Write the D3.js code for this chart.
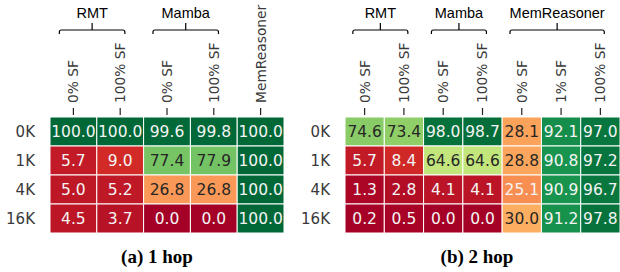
<!DOCTYPE html>
<html>
<head>
<meta charset="utf-8">
<script src="https://cdn.jsdelivr.net/npm/d3@7"></script>
<style>
  html, body { margin: 0; padding: 0; background: #fff; }
  svg { display: block; }
  .tick-label { font-family: "DejaVu Sans", sans-serif; fill: #3a3a3a; }
  .group-label { font-family: "Liberation Sans", Arial, sans-serif; font-size: 14.5px; fill: #000; }
  .caption { font-family: "Liberation Serif", "Times New Roman", serif; font-weight: bold; font-size: 19px; fill: #000; }
</style>
</head>
<body>
<svg id="chart" width="620" height="272"></svg>
<script>
  const rowLabels = ["0K", "1K", "4K", "16K"];

  const hop1Cols = ["0% SF", "100% SF", "0% SF", "100% SF", "MemReasoner"];
  const hop1Groups = [{ name: "RMT", from: 0, to: 1 }, { name: "Mamba", from: 2, to: 3 }];
  const hop1Values = [
    [100.0, 100.0, 99.6, 99.8, 100.0],
    [5.7, 9.0, 77.4, 77.9, 100.0],
    [5.0, 5.2, 26.8, 26.8, 100.0],
    [4.5, 3.7, 0.0, 0.0, 100.0]
  ];

  const hop2Cols = ["0% SF", "100% SF", "0% SF", "100% SF", "0% SF", "1% SF", "100% SF"];
  const hop2Groups = [{ name: "RMT", from: 0, to: 1 }, { name: "Mamba", from: 2, to: 3 }, { name: "MemReasoner", from: 4, to: 6 }];
  const hop2Values = [
    [74.6, 73.4, 98.0, 98.7, 28.1, 92.1, 97.0],
    [5.7, 8.4, 64.6, 64.6, 28.8, 90.8, 97.2],
    [1.3, 2.8, 4.1, 4.1, 25.1, 90.9, 96.7],
    [0.2, 0.5, 0.0, 0.0, 30.0, 91.2, 97.8]
  ];

  // RdYlGn, linear between the brewer stops like matplotlib does
  const rdylgn = ["#a50026", "#d73027", "#f46d43", "#fdae61", "#fee08b", "#ffffbf", "#d9ef8b", "#a6d96a", "#66bd63", "#1a9850", "#006837"];
  const color = d3.scaleLinear()
    .domain(d3.range(rdylgn.length).map((i) => i * 100 / (rdylgn.length - 1)))
    .range(rdylgn)
    .interpolate(d3.interpolateRgb);

  function luminance(c) {
    const rgb = d3.rgb(c);
    const lin = [rgb.r, rgb.g, rgb.b].map((v) => {
      v /= 255;
      return v <= 0.03928 ? v / 12.92 : Math.pow((v + 0.055) / 1.055, 2.4);
    });
    return 0.2126 * lin[0] + 0.7152 * lin[1] + 0.0722 * lin[2];
  }

  const svg = d3.select("#chart");
  const y = d3.scaleBand().domain(rowLabels).range([117, 233]);

  function drawHeatmap(cols, groups, values, x0, x1, caption, captionX) {
    const x = d3.scaleBand().domain(d3.range(cols.length)).range([x0, x1]);
    const g = svg.append("g");

    const cells = values.flatMap((row, r) => row.map((v, c) => ({ r: rowLabels[r], c, v })));
    g.selectAll("rect").data(cells).enter().append("rect")
      .attr("x", (d) => x(d.c))
      .attr("y", (d) => y(d.r))
      .attr("width", x.bandwidth())
      .attr("height", y.bandwidth())
      .attr("fill", (d) => color(d.v))
      .attr("stroke", "#fff")
      .attr("stroke-width", 1);

    g.selectAll("text.cell").data(cells).enter().append("text")
      .attr("class", "cell")
      .attr("x", (d) => x(d.c) + x.bandwidth() / 2)
      .attr("y", (d) => y(d.r) + y.bandwidth() / 2)
      .attr("dy", "0.36em")
      .attr("text-anchor", "middle")
      .style("font-family", "'DejaVu Sans', sans-serif")
      .style("font-size", "15.5px")
      .attr("fill", (d) => luminance(color(d.v)) > 0.408 ? "#262626" : "#f4f4f4")
      .text((d) => d.v.toFixed(1));

    // row labels
    g.selectAll("text.row").data(rowLabels).enter().append("text")
      .attr("class", "tick-label row")
      .attr("x", x0 - 15)
      .attr("y", (d) => y(d) + y.bandwidth() / 2)
      .attr("dy", "0.36em")
      .attr("text-anchor", "end")
      .style("font-size", "15px")
      .text((d) => d);

    // column ticks and rotated labels
    cols.forEach((label, i) => {
      const cx = x(i) + x.bandwidth() / 2;
      g.append("line")
        .attr("x1", cx).attr("x2", cx)
        .attr("y1", 108).attr("y2", 115)
        .attr("stroke", "#222").attr("stroke-width", 1.2);
      g.append("text")
        .attr("class", "tick-label")
        .attr("transform", `translate(${cx},103) rotate(-90)`)
        .attr("dy", "0.36em")
        .attr("text-anchor", "start")
        .style("font-size", "13.8px")
        .text(label);
    });

    // group brackets
    groups.forEach((grp) => {
      const bw = x.bandwidth();
      const a = x(grp.from) + bw * 0.2;
      const b = x(grp.to) + bw * 0.6;
      const m = (a + b) / 2;
      const p = d3.path();
      p.moveTo(a, 34);
      p.lineTo(a, 32);
      p.quadraticCurveTo(a, 30, a + 2, 30);
      p.lineTo(b - 2, 30);
      p.quadraticCurveTo(b, 30, b, 32);
      p.lineTo(b, 34);
      p.moveTo(m, 30);
      p.lineTo(m, 23);
      g.append("path").attr("d", p.toString())
        .attr("fill", "none").attr("stroke", "#000").attr("stroke-width", 1.2);
      g.append("text")
        .attr("class", "group-label")
        .attr("x", m)
        .attr("y", 18)
        .attr("text-anchor", "middle")
        .text(grp.name);
    });

    svg.append("text")
      .attr("class", "caption")
      .attr("x", captionX)
      .attr("y", 263)
      .attr("text-anchor", "middle")
      .text(caption);
  }

  drawHeatmap(hop1Cols, hop1Groups, hop1Values, 50, 284, "(a) 1 hop", 157);
  drawHeatmap(hop2Cols, hop2Groups, hop2Values, 345, 620, "(b) 2 hop", 477);
</script>
</body>
</html>
